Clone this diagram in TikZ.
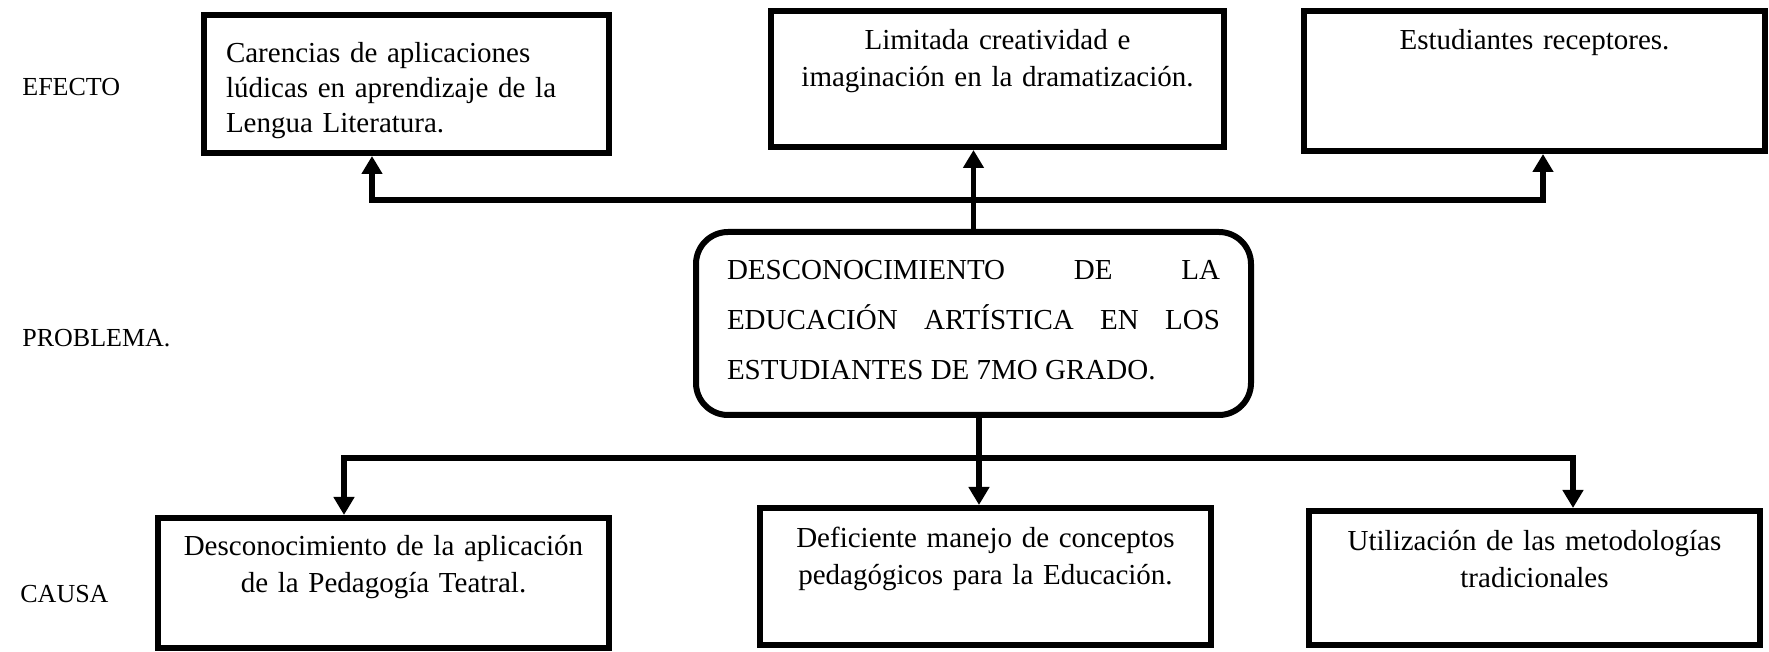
\documentclass[tikz,border=0pt]{standalone}
\usepackage{fontspec}
\setmainfont{Liberation Serif}
\usetikzlibrary{arrows.meta}

\tikzset{
  caja/.style={draw, rectangle, line width=3pt, inner xsep=5pt, inner ysep=0pt,
    align=center, font=\fontsize{14.5}{18.5}\selectfont, text height=19.5pt},
  problema/.style={draw, rectangle, rounded corners=16pt, line width=3pt,
    inner xsep=15.5pt, inner ysep=0pt, align=justify,
    font=\fontsize{14.5}{25}\selectfont, text height=24pt},
  etiqueta/.style={anchor=base west, inner sep=0pt, font=\fontsize{13}{15}\selectfont},
  conector/.style={line width=2.75pt}
}

\begin{document}
\begin{tikzpicture}[x=0.5pt, y=-0.5pt, >={Triangle[width=10pt,length=9pt]}]

\useasboundingbox (0,0) rectangle (1769,652);

\node[etiqueta] (lefecto) at (22,96) {EFECTO};
\node[etiqueta] (lproblema) at (22,347) {PROBLEMA.};
\node[etiqueta] (lcausa) at (20,603) {CAUSA};

\node[caja, align=left, inner xsep=11pt, text width=180.5pt, text height=24pt, text depth=45pt,
  font=\fontsize{14.5}{17.3}\selectfont] (e1) at (406.5,84)
  {Carencias de aplicaciones\\ lúdicas en aprendizaje de la\\ Lengua Literatura.};
\node[caja, text width=216.5pt, text depth=48.5pt] (e2) at (997.5,79)
  {Limitada creatividad e\\ imaginación en la dramatización.};
\node[caja, text width=220.5pt, text depth=50.5pt] (e3) at (1534.5,81)
  {Estudiantes receptores.};

\node[problema, text width=246.5pt, text depth=67.5pt] (prob) at (973.5,323.5)
  {DESCONOCIMIENTO DE LA\linebreak EDUCACIÓN ARTÍSTICA EN LOS\linebreak ESTUDIANTES DE 7MO GRADO.};

\node[caja, text width=215.5pt, text height=18.5pt, text depth=46.5pt] (c1) at (383.5,583)
  {Desconocimiento de la aplicación\\ de la Pedagogía Teatral.};
\node[caja, text width=215.5pt, text depth=49pt] (c2) at (985.5,576.5)
  {Deficiente manejo de conceptos\\ pedagógicos para la Educación.};
\node[caja, text width=215.5pt, text height=20pt, text depth=47pt] (c3) at (1534.5,578)
  {Utilización de las metodologías\\ tradicionales};

\coordinate (tl) at (372,200);
\coordinate (tr) at (1543,200);
\coordinate (bl) at (344,458);
\coordinate (br) at (1573,458);

\draw[conector, <->] (tl |- e1.south) -- (tl) -- (tr) -- (tr |- e3.south);
\draw[conector, ->] (prob.north) -- (prob.north |- e2.south);

\draw[conector, <->] (bl |- c1.north) -- (bl) -- (br) -- (br |- c3.north);
\draw[conector, ->] ([xshift=2.75pt]prob.south) -- ([xshift=2.75pt]prob.south |- c2.north);

\end{tikzpicture}
\end{document}
